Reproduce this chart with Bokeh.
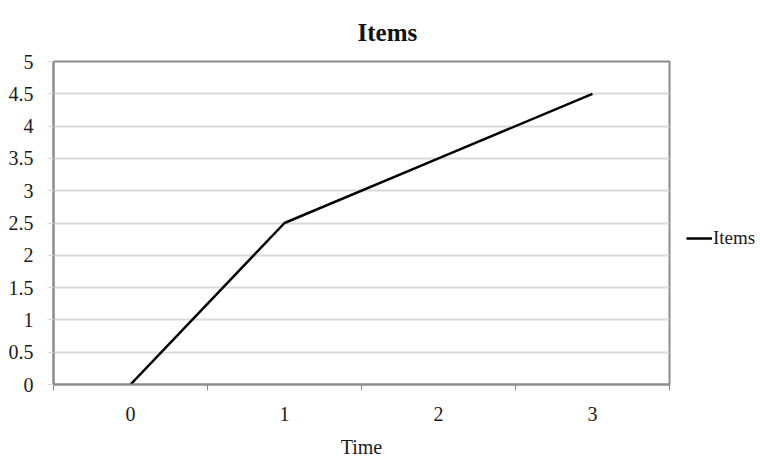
from bokeh.plotting import figure
from bokeh.layouts import row
from bokeh.models import (FixedTicker, Range1d, Legend, LegendItem, ColumnDataSource)
from bokeh.embed import file_html
from bokeh.resources import INLINE

# Series data
time_points = [0, 1, 2, 3]
items = [0, 2.5, 3.5, 4.5]
x_tick_labels = ["0", "1", "2", "3"]
y_ticks = [0, 0.5, 1, 1.5, 2, 2.5, 3, 3.5, 4, 4.5, 5]
y_tick_labels = ["0", "0.5", "1", "1.5", "2", "2.5", "3", "3.5", "4", "4.5", "5"]
series_name = "Items"

FONT = "Liberation Serif"
FRAME_GREY = "#8c8c8c"
GRID_GREY = "#d9d9d9"
TEXT = "#1a1a1a"
LINE_W = 2.5

p = figure(width=671, height=460, output_backend="svg", toolbar_location=None,
           x_range=Range1d(-0.5, 3.5), y_range=Range1d(0, 5),
           min_border_left=53, min_border_right=2, min_border_top=60, min_border_bottom=71)

p.title.text = "Items"
p.title.align = "left"
p.title.offset = 304
p.title.vertical_align = "bottom"
p.title.standoff = 32
p.title.text_font = FONT
p.title.text_font_size = "25px"
p.title.text_font_style = "bold"
p.title.text_color = "#111111"

p.outline_line_color = FRAME_GREY
p.outline_line_width = 2
p.background_fill_color = "white"
p.border_fill_color = "white"

# x axis: category labels centred, tick marks between categories
xa = p.xaxis[0]
xa.ticker = FixedTicker(ticks=time_points, minor_ticks=[-0.5, 0.5, 1.5, 2.5, 3.5])
xa.major_label_overrides = {t: lab for t, lab in zip(time_points, x_tick_labels)}
xa.major_tick_line_color = None
xa.minor_tick_in = 0
xa.minor_tick_out = 6
xa.minor_tick_line_color = FRAME_GREY
xa.minor_tick_line_width = 1
xa.axis_line_color = FRAME_GREY
xa.axis_line_width = 2
xa.major_label_text_font = FONT
xa.major_label_text_font_size = "20px"
xa.major_label_text_color = TEXT
xa.major_label_standoff = 16
xa.axis_label = "Time"
xa.axis_label_text_font = FONT
xa.axis_label_text_font_size = "20px"
xa.axis_label_text_font_style = "normal"
xa.axis_label_text_color = TEXT
xa.axis_label_standoff = 12

ya = p.yaxis[0]
ya.ticker = FixedTicker(ticks=y_ticks, minor_ticks=[])
ya.major_label_overrides = {t: lab for t, lab in zip(y_ticks, y_tick_labels)}
ya.major_tick_in = 0
ya.major_tick_out = 6
ya.major_tick_line_color = GRID_GREY
ya.axis_line_color = FRAME_GREY
ya.axis_line_width = 2
ya.major_label_text_font = FONT
ya.major_label_text_font_size = "20px"
ya.major_label_text_color = TEXT
ya.major_label_standoff = 14

p.xgrid.grid_line_color = None
p.ygrid.grid_line_color = GRID_GREY
p.ygrid.grid_line_width = 2

src = ColumnDataSource(dict(t=time_points, v=items))
p.line("t", "v", source=src, line_color="black", line_width=LINE_W)

# Side strip holding the series key to the right of the chart;
# the key's renderer sits outside the strip's visible range
q = figure(width=89, height=460, output_backend="svg", toolbar_location=None,
           x_axis_type=None, y_axis_type=None, min_border=0,
           x_range=Range1d(0, 1), y_range=Range1d(0, 1))
q.outline_line_color = None
q.grid.visible = False
key_line = q.line(x=[0, 1], y=[5, 5], line_color="black", line_width=LINE_W)

legend = Legend(items=[LegendItem(label=series_name, renderers=[key_line])],
                location=(15, 135), border_line_color=None,
                background_fill_alpha=0, padding=0, margin=0,
                glyph_width=26, glyph_height=20, label_standoff=1,
                label_text_font=FONT, label_text_font_size="19px",
                label_text_color=TEXT)
q.add_layout(legend, "center")

layout = row(p, q, spacing=0)
open("out.html", "w").write(file_html(layout, INLINE))
